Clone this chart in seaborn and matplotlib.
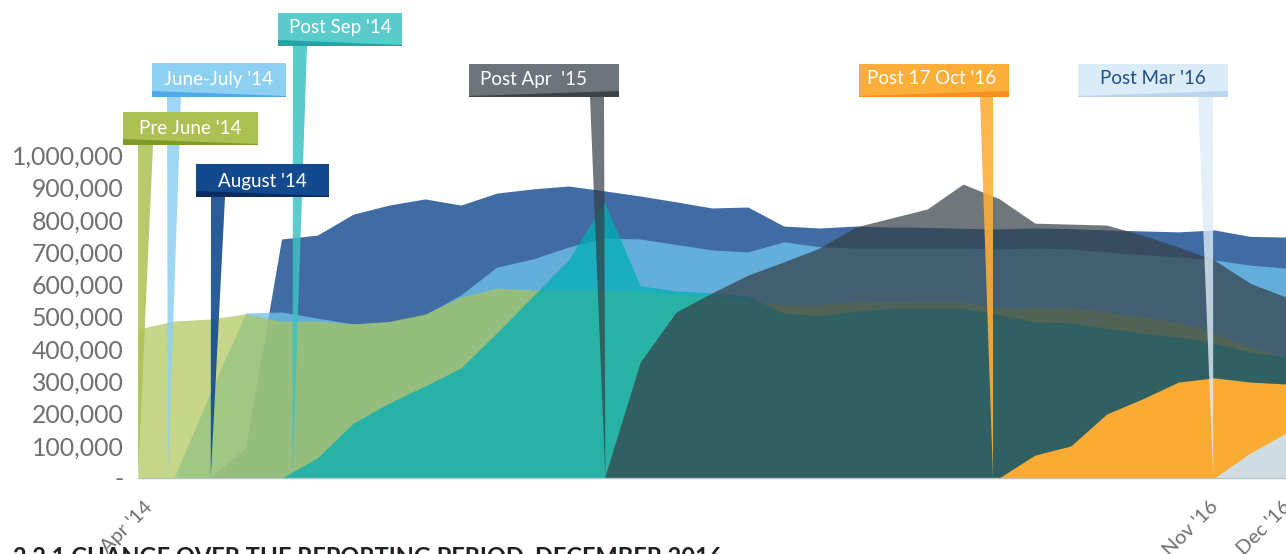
import numpy as np
import pandas as pd
import matplotlib
matplotlib.use("Agg")
import matplotlib.pyplot as plt
import seaborn as sns
from matplotlib.patches import Polygon
from matplotlib.transforms import Affine2D, ScaledTranslation

# ---------------- data (thousands) ----------------
n_points = 33
tick_positions = [0, 30, 32]
tick_labels = ["Apr '14", "Nov '16", "Dec '16"]
y_ticks = [0, 100000, 200000, 300000, 400000, 500000, 600000, 700000, 800000, 900000, 1000000]

pre_june = [461, 486, 492, 508, 486, 486, 477, 485, 508, 560, 588, 582, 582, 582, 578, 570, 560,
            548, 536, 536, 545, 546, 545, 545, 526, 529, 526, 514, 498, 483, 449, 406, 372]
june_july = [0, 0, 260, 511, 514, 495, 477, 483, 505, 567, 653, 678, 715, 743, 740, 723, 706,
             700, 731, 716, 712, 712, 712, 712, 709, 712, 709, 700, 692, 684, 675, 659, 650]
august = [0, 0, 0, 93, 740, 752, 817, 845, 864, 845, 882, 895, 904, 889, 873, 855, 836,
          839, 780, 774, 780, 777, 776, 773, 771, 774, 772, 768, 765, 762, 768, 748, 746]
post_sep = [0, 0, 0, 0, 0, 62, 170, 232, 285, 341, 449, 562, 675, 854, 595, 579, 573,
            563, 511, 502, 517, 526, 526, 526, 505, 483, 480, 464, 449, 437, 418, 390, 375]
post_apr = [0, 0, 0, 0, 0, 0, 0, 0, 0, 0, 0, 0, 0, 0, 359, 514, 573,
            628, 669, 712, 777, 805, 833, 910, 865, 789, 786, 783, 752, 715, 675, 603, 560]
post_oct = [0] * 25 + [71, 99, 198, 245, 297, 310, 297, 291]
post_mar = [0] * 31 + [77, 139]

series = {
    "Pre June '14": pre_june,
    "June-July '14": june_july,
    "August '14": august,
    "Post Sep '14": post_sep,
    "Post Apr  '15": post_apr,
    "Post 17 Oct '16": post_oct,
    "Post Mar '16": post_mar,
}
df = pd.DataFrame({k: np.array(v) * 1000 for k, v in series.items()})
df["idx"] = np.arange(n_points)

# draw order, area colours, alpha
area_style = [
    ("August '14", "#134A8E", 0.81),
    ("June-July '14", "#6EC1EC", 0.78),
    ("Pre June '14", "#ABC455", 0.69),
    ("Post Sep '14", "#00AEB5", 0.73),
    ("Post Apr  '15", "#343D45", 0.70),
    ("Post 17 Oct '16", "#FAAB34", 1.0),
    ("Post Mar '16", "#CFDDE3", 1.0),
]

# callout layout in pixels: box (l, t, r, b), pointer top (xl, xr), tip offset, wedge side,
# box colour, wedge colour, text colour, text centre, pointer colour, pointer alpha
callouts = [
    ("Pre June '14", (123, 112, 258, 145), (138, 153), 0, "left", "#ADC152", "#7D9B26", "white", (190, 129), "#ADC152", 0.85),
    ("June-July '14", (152, 63, 286, 97), (167, 181), -6, "left", "#8ED0F2", "#4DAAE8", "white", (219, 79), "#8ED0F2", 0.85),
    ("Post Sep '14", (278, 13, 402, 46), (293, 307), 11, "left", "#5BCACB", "#27A3A3", "white", (340, 28), "#3FC2C4", 0.85),
    ("August '14", (196, 164, 329, 197), (211, 225), 1, "left", "#134A8E", "#0B2C63", "white", (262, 181), "#134A8E", 0.9),
    ("Post Apr  '15", (469, 64, 619, 97), (590, 604), 1, "right", "#6D737A", "#3D4249", "white", (533, 79), "#343D45", 0.7),
    ("Post 17 Oct '16", (859, 64, 1009, 97), (980, 993), -6, "right", "#FBAE3A", "#F58F1F", "white", (932, 79), "#FBAE3A", 0.9),
    ("Post Mar '16", (1078, 64, 1228, 97), (1198, 1213), -1, "right", "#DCEBF8", "#B9D5F0", "#1F4E8C", (1153, 79), "#DCEBF8", 0.8),
]

# ---------------- figure ----------------
W, H = 1286, 554
sns.set_theme(style="white")
plt.rcParams["font.family"] = ["Lato", "DejaVu Sans"]

fig = plt.figure(figsize=(W / 100, H / 100), dpi=100)
ax = fig.add_axes([138 / W, 1 - 478 / H, (W - 138) / W, (478 - 155) / H])

for name, color, alpha in area_style:
    ax.fill_between(df["idx"], 0, df[name], color=color, alpha=alpha, linewidth=0, zorder=2)

ax.set_xlim(0, n_points - 1)
ax.set_ylim(0, 1000000)
ax.set_yticks(y_ticks)
ax.set_yticklabels(["-" if v == 0 else f"{v:,.0f}" for v in y_ticks])
ax.set_xticks(tick_positions)
ax.set_xticklabels(tick_labels)
ax.tick_params(axis="y", length=0, pad=10.5, labelsize=17.8, labelcolor="#6F6F6F")
ax.tick_params(axis="x", length=0, pad=0, labelsize=14.5, labelcolor="#6F6F6F")
sns.despine(ax=ax, left=True, top=True, right=True)
ax.spines["bottom"].set_color("#B5C3C5")
ax.spines["bottom"].set_linewidth(1.0)
ax.grid(False)

x_offsets = [6, -5, -4]
for lab, dx in zip(ax.get_xticklabels(), x_offsets):
    lab.set_rotation(45)
    lab.set_ha("right")
    lab.set_va("top")
    lab.set_rotation_mode("anchor")
    lab.set_transform(lab.get_transform() + ScaledTranslation(dx / 100, -20 / 100, fig.dpi_scale_trans))

# pixel transform (top-left origin)
pix = Affine2D().scale(1 / W, -1 / H).translate(0, 1) + fig.transFigure
base_y = H - ax.transData.transform((0, 0))[1]

for name, (l, t, r, b), (pxl, pxr), toff, side, bcol, wcol, tcol, (tx, ty), pcol, palpha in callouts:
    vals = np.array(series[name])
    start = max(int(np.argmax(vals > 0)) - 1, 0)
    tip = ax.transData.transform((start, 0))[0] + toff
    ptr = Polygon([(pxl, b), (pxr, b), (tip, base_y)], closed=True, transform=pix,
                  facecolor=pcol, edgecolor="none", alpha=palpha, zorder=5)
    fig.add_artist(ptr)
    box = Polygon([(l, t), (r, t), (r, b), (l, b)], closed=True, transform=pix,
                  facecolor=bcol, edgecolor="none", zorder=6)
    fig.add_artist(box)
    if side == "left":
        wv = [(l, b - 6), (r, b - 1), (r, b), (l, b)]
    else:
        wv = [(l, b - 1), (r, b - 6), (r, b), (l, b)]
    fig.add_artist(Polygon(wv, closed=True, transform=pix, facecolor=wcol, edgecolor="none", zorder=7))
    fig.text(tx, ty, name, transform=pix, ha="center", va="center", fontsize=13.5, color=tcol, zorder=8)

fig.text(13 / W, 1 - 545 / H, "2.2.1 CHANGE OVER THE REPORTING PERIOD, DECEMBER 2016",
         fontsize=17, fontweight="bold", color="#231F20", ha="left", va="top")

fig.savefig("out.png", dpi=100)
